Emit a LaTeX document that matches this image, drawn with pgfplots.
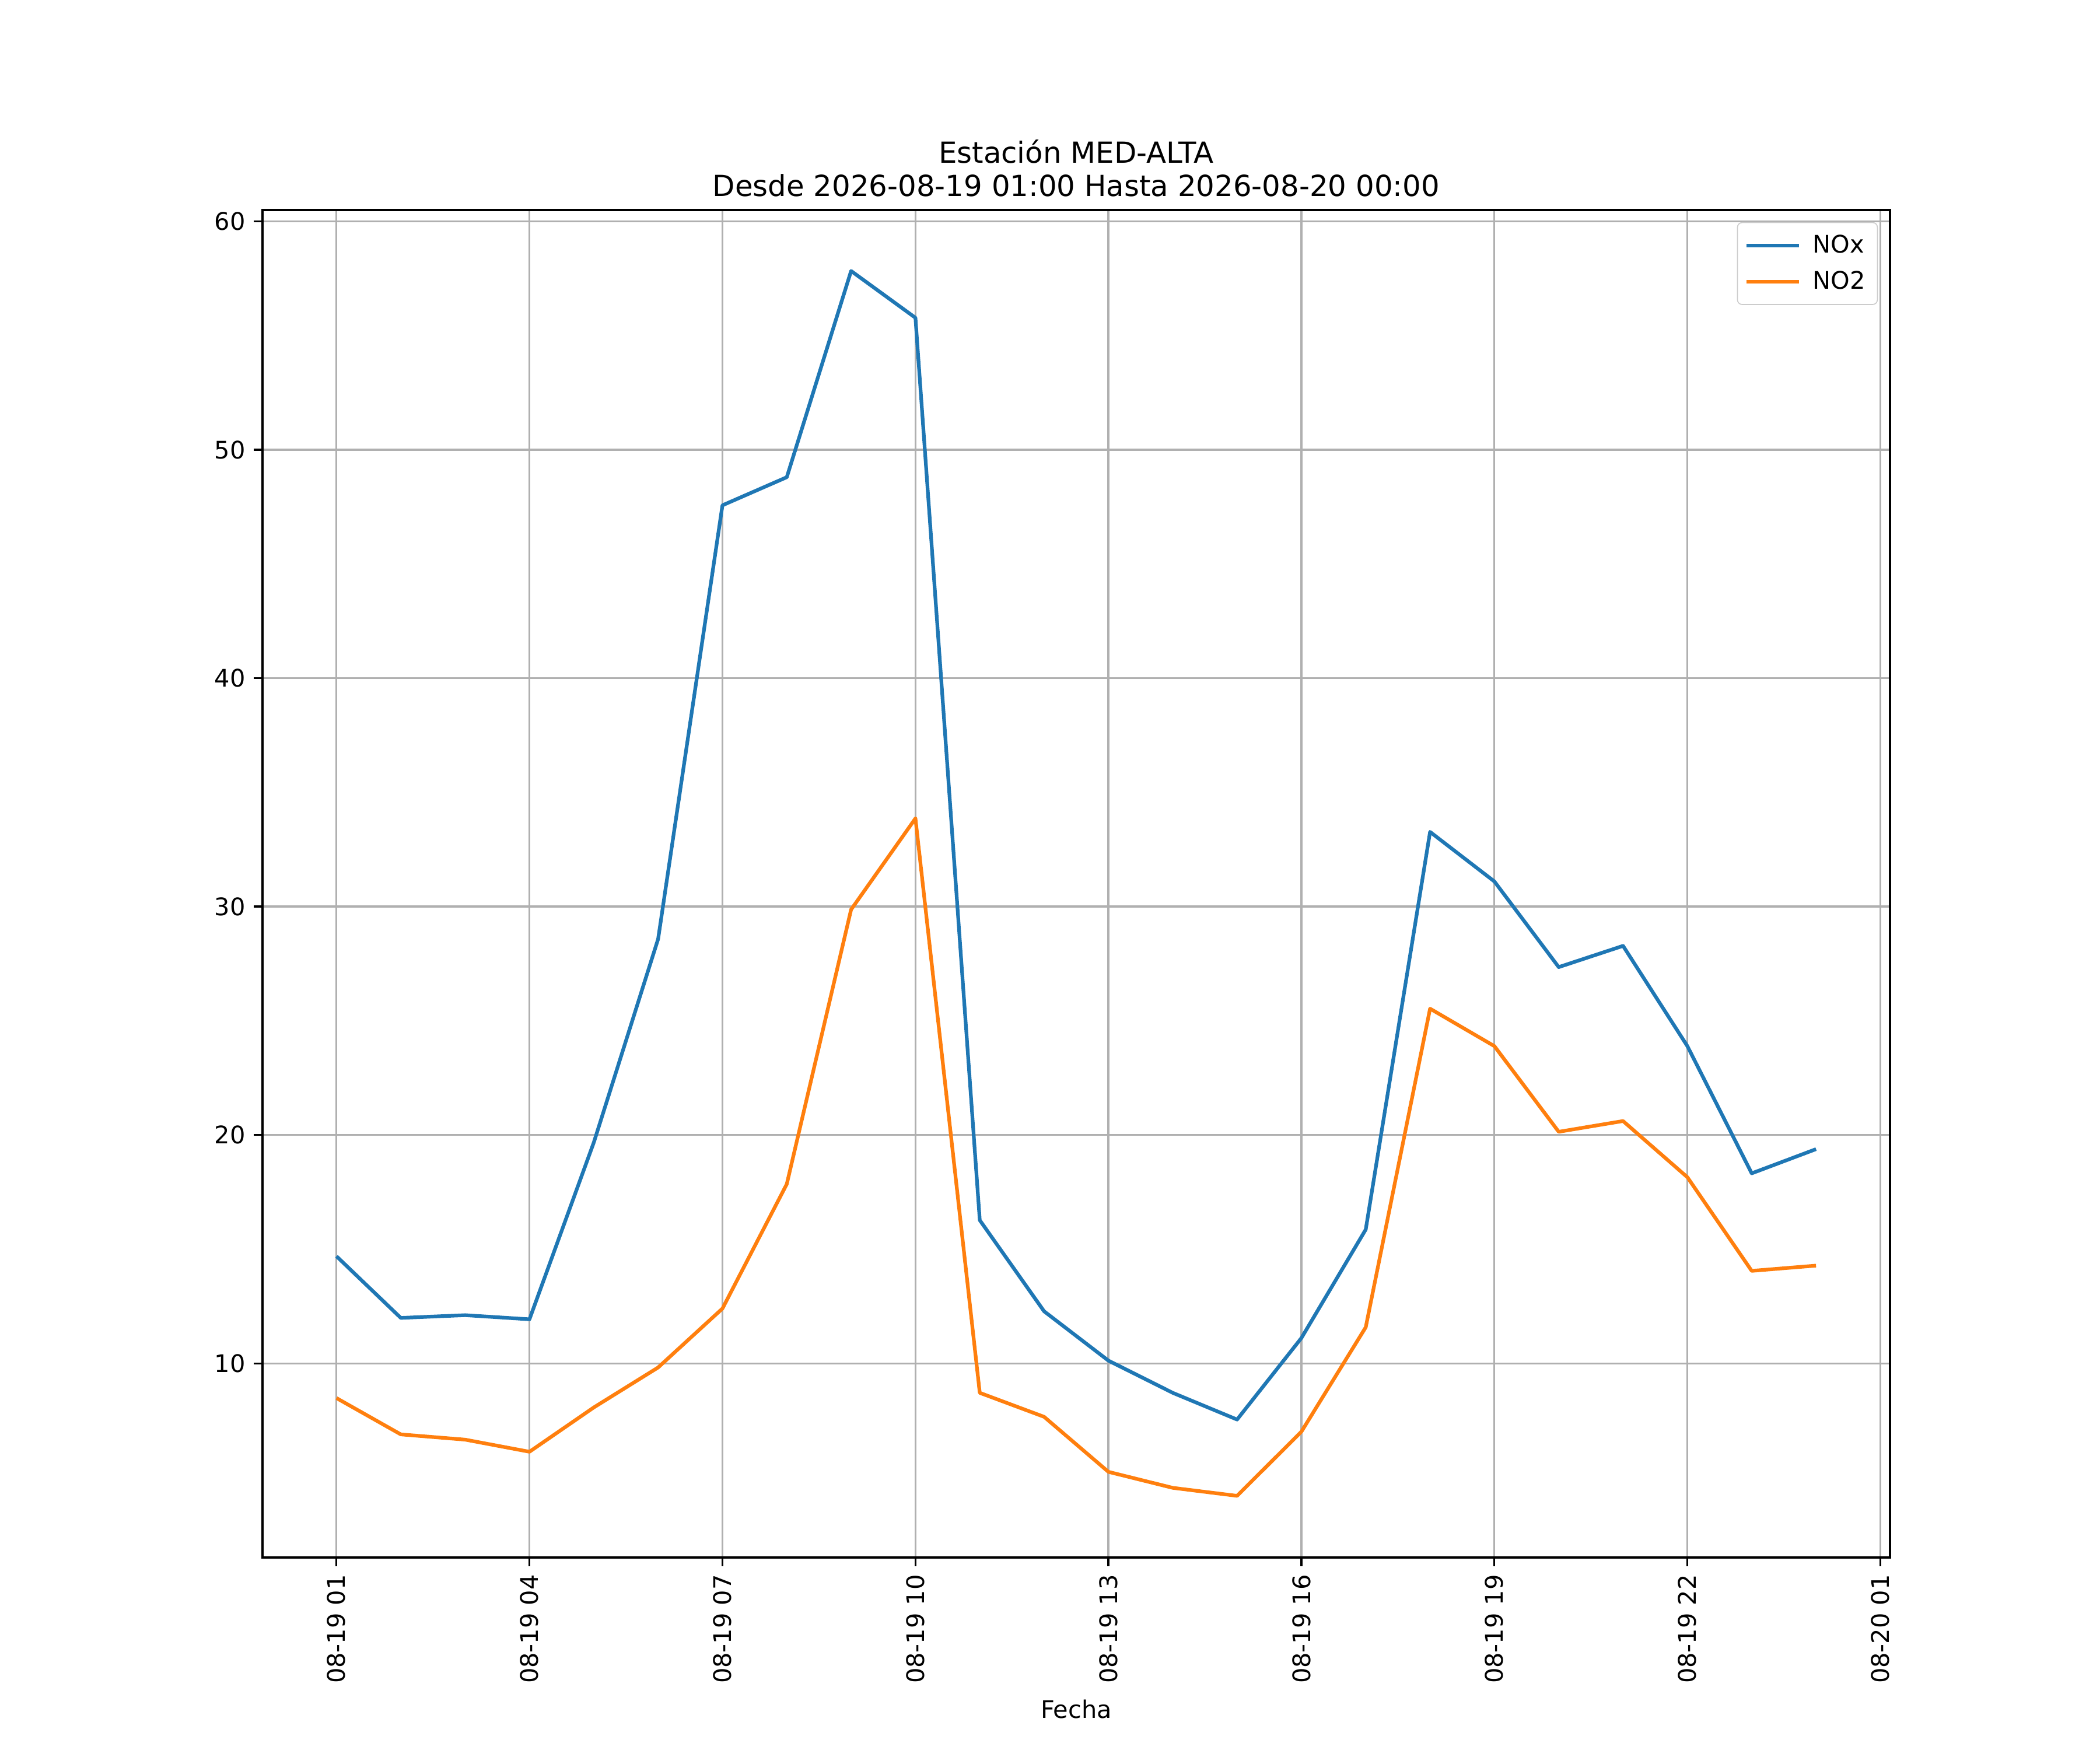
\documentclass[border=0pt]{standalone}
\usepackage{fontspec}
\setmainfont{DejaVu Sans}
\usepackage{pgfplots}
\pgfplotsset{compat=1.18}
\definecolor{mplblue}{HTML}{1F77B4}
\definecolor{mplorange}{HTML}{FF7F0E}
\begin{document}
\begin{tikzpicture}
\path (0,0) rectangle (12in,10in);
\begin{axis}[
  at={(1.5in,1.1in)}, anchor=south west,
  width=9.3in, height=7.7in, scale only axis,
  xmin=-1.15, xmax=24.15, ymin=1.5, ymax=60.5,
  xtick={0,3,...,24},
  xticklabels={08-19 01,08-19 04,08-19 07,08-19 10,08-19 13,08-19 16,08-19 19,08-19 22,08-20 01},
  ytick={10,20,...,60},
  tick pos=left,
  grid=major, grid style={color=black!31, line width=0.8pt},
  axis line style={line width=0.8pt},
  tick style={line width=0.8pt, black}, tick align=outside, major tick length=3.5pt,
  xticklabel style={rotate=90, anchor=east},
  /pgf/number format/assume math mode=true,
  font=\fontsize{10}{12}\selectfont,
  title style={align=center, font=\fontsize{12}{13.8}\selectfont, yshift=-4pt},
  title={Estación MED-ALTA\\Desde 2026-08-19 01:00 Hasta 2026-08-20 00:00},
  xlabel={Fecha},
  legend style={at={(1,1)}, anchor=north east, xshift=-5pt, yshift=-5pt,
    draw=black!20, rounded corners=2pt, fill=white, fill opacity=0.8, text opacity=1,
    font=\fontsize{10}{12}\selectfont, row sep=2pt, inner sep=3pt,
    /tikz/every odd column/.append style={column sep=3pt}},
  legend cell align=left,
  legend image code/.code={\draw[#1] (0pt,0pt) -- (21.6pt,0pt);},
]
\addplot[mplblue, line width=1.5pt, line join=round] coordinates {
(0,14.69) (1,11.99) (2,12.11) (3,11.93) (4,19.67) (5,28.58) (6,47.57) (7,48.80)
(8,57.83) (9,55.78) (10,16.27) (11,12.28) (12,10.12) (13,8.71) (14,7.54) (15,11.11)
(16,15.86) (17,33.27) (18,31.10) (19,27.35) (20,28.28) (21,23.89) (22,18.32) (23,19.38)};
\addlegendentry{NOx}
\addplot[mplorange, line width=1.5pt, line join=round] coordinates {
(0,8.48) (1,6.89) (2,6.66) (3,6.13) (4,8.07) (5,9.82) (6,12.40) (7,17.85)
(8,29.87) (9,33.86) (10,8.71) (11,7.66) (12,5.25) (13,4.55) (14,4.20) (15,7.01)
(16,11.58) (17,25.53) (18,23.89) (19,20.14) (20,20.61) (21,18.15) (22,14.05) (23,14.28)};
\addlegendentry{NO2}
\end{axis}
\end{tikzpicture}
\end{document}
